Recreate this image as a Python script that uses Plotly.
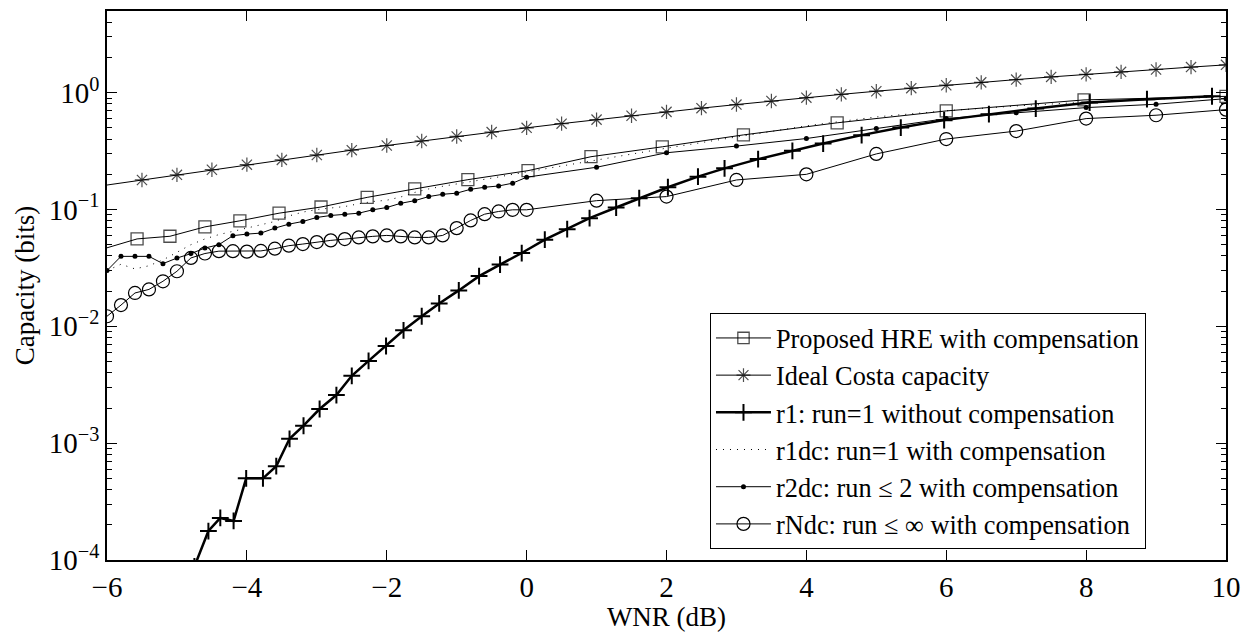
import plotly.graph_objects as go

# ---------------- data ----------------
costa_x = [-6.0, -5.5, -5.0, -4.5, -4.0, -3.5, -3.0, -2.5, -2.0, -1.5, -1.0, -0.5, 0.0,
           0.5, 1.0, 1.5, 2.0, 2.5, 3.0, 3.5, 4.0, 4.5, 5.0, 5.5, 6.0, 6.5, 7.0, 7.5,
           8.0, 8.5, 9.0, 9.5, 10.0]
costa_y = [0.162, 0.179, 0.198, 0.219, 0.242, 0.266, 0.293, 0.322, 0.353, 0.386, 0.422,
           0.460, 0.500, 0.543, 0.588, 0.635, 0.685, 0.737, 0.791, 0.848, 0.906, 0.967,
           1.029, 1.093, 1.158, 1.225, 1.294, 1.364, 1.435, 1.507, 1.580, 1.655, 1.730]

hre_x = [-6.0, -5.57, -5.1, -4.6, -4.1, -3.54, -2.94, -2.28, -1.6, -0.84, 0.02, 0.92,
         1.94, 3.1, 4.44, 6.0, 7.97, 10.0]
hre_y = [0.047, 0.056, 0.059, 0.071, 0.080, 0.093, 0.105, 0.127, 0.150, 0.180, 0.215,
         0.283, 0.344, 0.435, 0.552, 0.698, 0.867, 0.93]

r1_x = [-4.75, -4.55, -4.38, -4.19, -4.01, -3.77, -3.58, -3.39, -3.19, -2.96, -2.72,
        -2.50, -2.26, -2.01, -1.76, -1.50, -1.25, -0.97, -0.68, -0.38, -0.07, 0.26,
        0.58, 0.90, 1.28, 1.61, 2.02, 2.45, 2.83, 3.31, 3.80, 4.24, 4.79, 5.35, 5.97,
        6.61, 7.28, 8.05, 8.87, 9.80]
r1_y = [8.8e-5, 1.77e-4, 2.29e-4, 2.16e-4, 5.0e-4, 5.0e-4, 6.35e-4, 1.09e-3, 1.41e-3,
        1.96e-3, 2.58e-3, 3.77e-3, 5.06e-3, 6.79e-3, 9.24e-3, 0.0122, 0.0157, 0.0203,
        0.0269, 0.0338, 0.0424, 0.0552, 0.0679, 0.0843, 0.104, 0.125, 0.155, 0.191,
        0.225, 0.270, 0.318, 0.367, 0.433, 0.503, 0.582, 0.655, 0.731, 0.822, 0.879,
        0.932]

grid_x = [-6.0, -5.8, -5.6, -5.4, -5.2, -5.0, -4.8, -4.6, -4.4, -4.2, -4.0, -3.8, -3.6,
          -3.4, -3.2, -3.0, -2.8, -2.6, -2.4, -2.2, -2.0, -1.8, -1.6, -1.4, -1.2, -1.0,
          -0.8, -0.6, -0.4, -0.2, 0.0, 1.0, 2.0, 3.0, 4.0, 5.0, 6.0, 7.0, 8.0, 9.0, 10.0]

r1dc_y = [0.030, 0.034, 0.031, 0.033, 0.037, 0.043, 0.050, 0.056, 0.061, 0.065, 0.069,
          0.074, 0.079, 0.088, 0.095, 0.100, 0.103, 0.106, 0.112, 0.117, 0.120, 0.128,
          0.140, 0.150, 0.158, 0.165, 0.172, 0.180, 0.190, 0.200, 0.210, 0.265, 0.335,
          0.420, 0.520, 0.620, 0.700, 0.770, 0.830, 0.880, 0.920]

r2dc_y = [0.030, 0.0397, 0.0397, 0.0397, 0.0344, 0.0384, 0.0419, 0.0468, 0.050, 0.0597,
          0.0616, 0.0628, 0.0693, 0.0749, 0.0790, 0.0855, 0.0889, 0.0912, 0.0930, 0.0994,
          0.104, 0.113, 0.119, 0.129, 0.135, 0.138, 0.149, 0.155, 0.159, 0.168, 0.189,
          0.230, 0.306, 0.349, 0.405, 0.493, 0.600, 0.672, 0.745, 0.796, 0.889]

rndc_y = [0.0122, 0.0152, 0.0193, 0.0207, 0.0243, 0.0296, 0.0385, 0.042, 0.044, 0.044,
          0.0436, 0.0442, 0.0462, 0.0490, 0.0506, 0.0526, 0.0544, 0.0558, 0.0577, 0.0589,
          0.060, 0.0589, 0.0577, 0.0577, 0.060, 0.0693, 0.0806, 0.0912, 0.0962, 0.0994,
          0.0994, 0.119, 0.129, 0.179, 0.200, 0.299, 0.401, 0.469, 0.600, 0.641, 0.716]

names = ["Proposed HRE with compensation", "Ideal Costa capacity",
         "r1: run=1 without compensation", "r1dc: run=1 with compensation",
         "r2dc: run \u2264 2 with compensation", "rNdc: run \u2264 \u221e with compensation"]

x_ticks = [-6, -4, -2, 0, 2, 4, 6, 8, 10]
x_ticktext = ["\u22126", "\u22124", "\u22122", "0", "2", "4", "6", "8", "10"]
y_ticks = [1e-4, 1e-3, 1e-2, 1e-1, 1]
y_ticktext = ["10<sup>\u22124</sup>", "10<sup>\u22123</sup>", "10<sup>\u22122</sup>",
              "10<sup>\u22121</sup>", "10<sup>0</sup>"]
y_minor = [m * 10.0 ** e for e in range(-4, 0) for m in range(2, 10)] + [2, 3, 4, 5]

FONT = "Liberation Serif, Times New Roman, serif"
FS = 27
LEG_FS = 26.3
TICK_FS = 29

fig = go.Figure()

fig.add_trace(go.Scatter(
    x=hre_x, y=hre_y, name=names[0], mode="lines+markers",
    line=dict(color="black", width=1),
    marker=dict(symbol="square-open", size=[0] + [12] * (len(hre_x) - 1),
                color="black", line=dict(width=1.3, color="black"))))

fig.add_trace(go.Scatter(
    x=costa_x, y=costa_y, name=names[1], mode="lines+markers",
    line=dict(color="black", width=1),
    marker=dict(symbol="asterisk-open", size=[0] + [12] * (len(costa_x) - 1),
                color="black", line=dict(width=1.2, color="black"))))

fig.add_trace(go.Scatter(
    x=r1_x, y=r1_y, name=names[2], mode="lines+markers",
    line=dict(color="black", width=2.5),
    marker=dict(symbol="cross-thin-open", size=12, color="black",
                line=dict(width=2, color="black"))))

fig.add_trace(go.Scatter(
    x=grid_x, y=r1dc_y, name=names[3], mode="lines",
    line=dict(color="black", width=1, dash="1px,6px")))

fig.add_trace(go.Scatter(
    x=grid_x, y=r2dc_y, name=names[4], mode="lines+markers",
    line=dict(color="black", width=1),
    marker=dict(symbol="circle", size=5, color="black")))

fig.add_trace(go.Scatter(
    x=grid_x, y=rndc_y, name=names[5], mode="lines+markers",
    line=dict(color="black", width=1),
    marker=dict(symbol="circle-open", size=13, color="black",
                line=dict(width=1.2, color="black"))))

fig.update_layout(
    width=1254, height=632,
    margin=dict(l=107, r=28, t=9, b=72),
    paper_bgcolor="white", plot_bgcolor="white",
    font=dict(family=FONT, size=FS, color="black"),
    showlegend=True,
    legend=dict(x=0.9285, y=0.0194, xanchor="right", yanchor="bottom",
                bgcolor="white", bordercolor="black", borderwidth=1,
                font=dict(family=FONT, size=LEG_FS, color="black"),
                itemwidth=55, tracegroupgap=0),
    xaxis=dict(range=[-6, 10], tickvals=x_ticks, ticktext=x_ticktext,
               tickfont=dict(family=FONT, size=TICK_FS),
               ticks="inside", ticklen=10, tickcolor="black", tickwidth=1,
               showline=True, linecolor="black", linewidth=1.5, mirror="ticks",
               showgrid=False, zeroline=False,
               title=dict(text="WNR (dB)", standoff=0,
                          font=dict(family=FONT, size=FS))),
    yaxis=dict(type="log", range=[-4, 0.69897], tickvals=y_ticks, ticktext=y_ticktext,
               tickfont=dict(family=FONT, size=TICK_FS),
               ticks="inside", ticklen=10, tickcolor="black", tickwidth=1,
               showline=True, linecolor="black", linewidth=1.5, mirror="ticks",
               showgrid=False, zeroline=False,
               minor=dict(tickmode="array", tickvals=y_minor, ticks="inside",
                          ticklen=5, tickcolor="black", tickwidth=1, showgrid=False),
               title=dict(text="Capacity (bits)", standoff=6,
                          font=dict(family=FONT, size=FS))),
)

fig.write_html("out.html")
